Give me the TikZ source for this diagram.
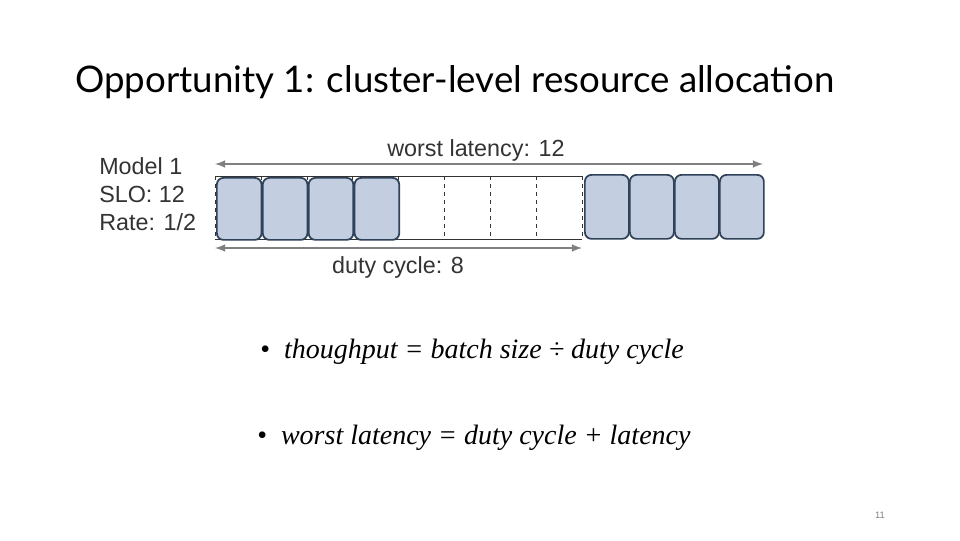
\documentclass[tikz,border=0pt]{standalone}
\usepackage{fontspec}
\setmainfont{Liberation Sans}
\newfontfamily\titlef{Lato}
\newfontfamily\mathf{Liberation Serif}
\definecolor{bfill}{HTML}{C3CEE0}
\definecolor{bdraw}{HTML}{2F4259}
\begin{document}
\begin{tikzpicture}[x=0.75pt,y=-0.75pt,
  blk/.style={draw=bdraw,line width=1.3pt,fill=bfill,rounded corners=5pt,inner sep=0,anchor=north west},
  dim/.style={draw=gray,line width=1.6pt,<->,>=latex},
  lbl/.style={font=\fontsize{17.5pt}{21pt}\selectfont,text=black!80,inner sep=0}]
\useasboundingbox (0,0) rectangle (960,540);
\node[anchor=base west,inner sep=0,font=\titlef\fontsize{27.5pt}{32pt}\selectfont] (title) at (75,92) {Opportunity 1: cluster-level resource allocation};
\node[lbl,anchor=north west,align=left] (model) at (99,157) {Model 1\\SLO: 12\\Rate: 1/2};
\draw[black!80] (215,176) -- (582,176) (215,239) -- (582,239);
\draw[black!80,dashed] (215,176) -- (215,239) (582,176) -- (582,239);
\foreach \i in {1,...,7} \draw[black!80,dashed] ({215+\i*45.9},176) -- ({215+\i*45.9},239);
\foreach \i in {0,...,3} \node[blk,minimum width=33.5pt,minimum height=46.5pt] (l\i) at ({216+\i*45.9},177) {};
\foreach \i in {0,...,3} \node[blk,minimum width=33pt,minimum height=48pt] (r\i) at ({584+\i*45},174) {};
\coordinate (ta) at (215,164); \coordinate (tb) at (763,164);
\draw[dim] (ta) -- (tb);
\coordinate (ba) at (215,248); \coordinate (bb) at (582,248);
\draw[dim] (ba) -- (bb);
\node[lbl,anchor=base] (wl) at (476,156) {worst latency: 12};
\node[lbl,anchor=base] (dc) at (398,273) {duty cycle: 8};
\node[anchor=base west,inner sep=0,font=\mathf\itshape\fontsize{21pt}{24pt}\selectfont] (f1) at (260,358) {\upshape•\ \ \itshape thoughput = batch size ÷ duty cycle};
\node[anchor=base west,inner sep=0,font=\mathf\itshape\fontsize{21pt}{24pt}\selectfont] (f2) at (257,444) {\upshape•\ \ \itshape worst latency = duty cycle + latency};
\node[anchor=base,inner sep=0,font=\fontsize{7pt}{8pt}\selectfont,text=gray] (pg) at (880,518) {11};
\end{tikzpicture}
\end{document}
